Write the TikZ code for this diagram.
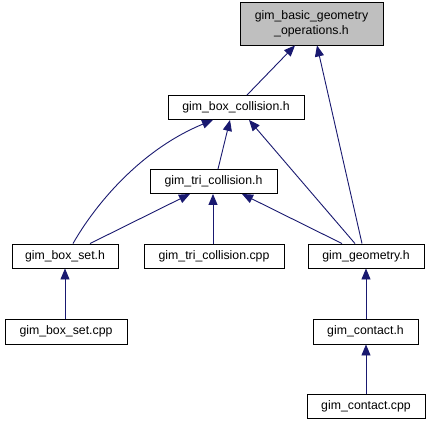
\documentclass[tikz,border=0pt]{standalone}
\usepackage{fontspec}
\setmainfont{Liberation Sans}
\usetikzlibrary{arrows.meta}
\definecolor{edgecol}{HTML}{191970}
\definecolor{greyfill}{HTML}{BFBFBF}
\tikzset{
  file/.style={draw=black, line width=0.9pt, fill=white, inner sep=0pt, align=center,
    font=\fontsize{12.3}{15}\selectfont},
  edge/.style={draw=edgecol, line width=0.9pt, -{Triangle[length=11pt,width=9pt,fill=edgecol]}},
}
\begin{document}
\begin{tikzpicture}[x=1pt,y=-1pt]
\useasboundingbox (0,0) rectangle (431,425);
\fill[white] (0,0) rectangle (431,425);
\node[file, fill=greyfill, minimum width=143pt, minimum height=43pt] (basic) at (311.5,23.5) {gim\_basic\_geometry\\\_operations.h};
\node[file, minimum width=136pt, minimum height=24pt] (boxcol) at (236,107.5) {gim\_box\_collision.h};
\node[file, minimum width=127pt, minimum height=24pt] (tricol) at (213.5,181.5) {gim\_tri\_collision.h};
\node[file, minimum width=106pt, minimum height=24pt] (boxset) at (65,256) {gim\_box\_set.h};
\node[file, minimum width=140pt, minimum height=24pt] (tricpp) at (214,256) {gim\_tri\_collision.cpp};
\node[file, minimum width=116pt, minimum height=24pt] (geom) at (366,256) {gim\_geometry.h};
\node[file, minimum width=122pt, minimum height=25pt] (boxsetcpp) at (66,331.5) {gim\_box\_set.cpp};
\node[file, minimum width=105pt, minimum height=25pt] (contacth) at (365.5,331.5) {gim\_contact.h};
\node[file, minimum width=118pt, minimum height=24pt] (contactcpp) at (366,406) {gim\_contact.cpp};

\draw[edge] (boxcol.north -| 247,0) -- (basic.south -| 295,0);
\draw[edge] (geom.north -| 362,0) -- (basic.south -| 317,0);
\draw[edge] (boxset.north -| 73,0) .. controls (95,205) and (140,150) .. (boxcol.south -| 213,0);
\draw[edge] (tricol.north -| 218,0) -- (boxcol.south -| 230,0);
\draw[edge] (geom.north -| 355,0) -- (boxcol.south -| 249,0);
\draw[edge] (boxset.north -| 90,0) -- (tricol.south -| 190,0);
\draw[edge] (tricpp.north -| 213,0) -- (tricol.south -| 213,0);
\draw[edge] (geom.north -| 342,0) -- (tricol.south -| 242,0);
\draw[edge] (boxsetcpp.north -| 65,0) -- (boxset.south -| 65,0);
\draw[edge] (contacth.north -| 366,0) -- (geom.south -| 366,0);
\draw[edge] (contactcpp.north -| 366,0) -- (contacth.south -| 366,0);
\end{tikzpicture}
\end{document}
